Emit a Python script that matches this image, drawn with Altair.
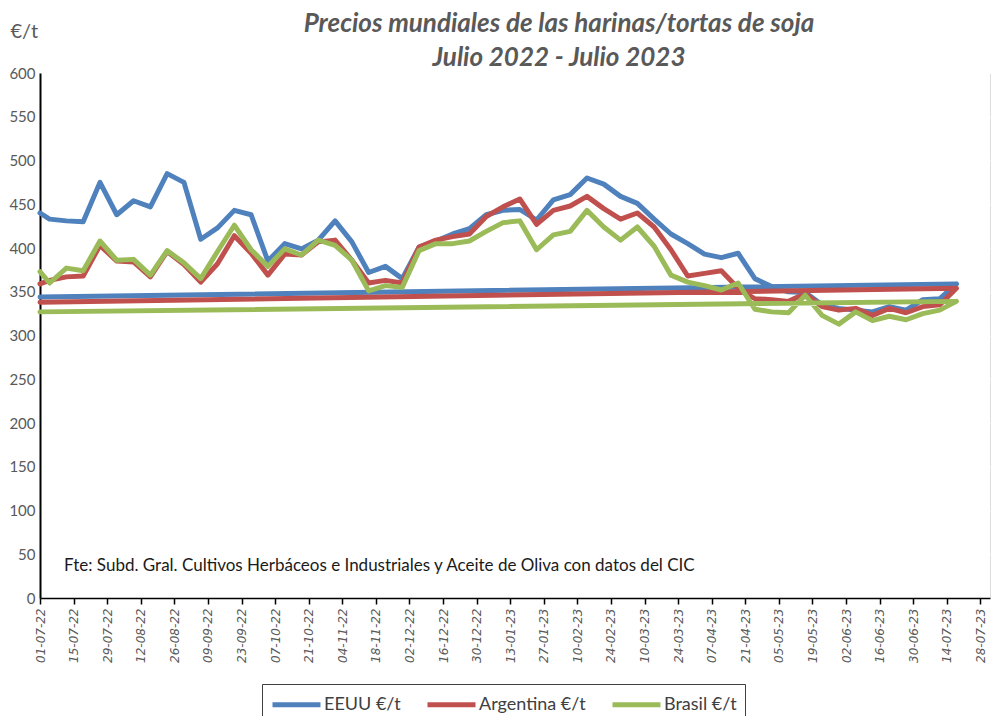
import altair as alt
import pandas as pd

# ---------------- data ----------------
series = ["EEUU €/t", "Argentina €/t", "Brasil €/t"]
colors = ["#4F81BD", "#C0504D", "#9BBB59"]

start_date = "2022-07-01"
weekly_dates = [d.strftime("%Y-%m-%d") for d in pd.date_range("2022-07-05", periods=55, freq="7D")]

eeuu_first = 440
eeuu = [433, 431, 430, 475, 438, 454, 447, 485, 475, 410, 423, 443, 438, 385,
        405, 399, 409, 431, 407, 372, 379, 365, 401, 408, 416, 422, 438, 443,
        444, 432, 455, 461, 480, 473, 459, 451, 433, 416, 405, 393, 389, 394,
        365, 356, 350, 349, 335, 331, 329, 327, 333, 329, 341, 342, 359]
eeuu_close = 344

arg_first = 359
argentina = [363, 367, 368, 403, 385, 384, 367, 396, 381, 361, 382, 414, 394, 369,
             393, 392, 407, 409, 386, 360, 363, 360, 401, 409, 413, 416, 436, 447,
             456, 427, 443, 448, 459, 445, 433, 440, 424, 398, 368, 371, 374, 354,
             342, 341, 339, 348, 333, 329, 331, 323, 331, 326, 333, 335, 354]
arg_close = 338

bra_first = 373
brasil = [360, 377, 374, 408, 386, 387, 369, 397, 383, 365, 396, 426, 398, 379,
          399, 392, 409, 403, 386, 351, 357, 355, 397, 405, 405, 408, 419, 429,
          431, 398, 415, 419, 443, 424, 409, 424, 402, 369, 361, 357, 352, 360,
          330, 327, 326, 346, 323, 313, 327, 317, 322, 318, 325, 329, 339]
bra_close = 327

y_ticks = list(range(0, 601, 50))
x_tick_dates = [d.strftime("%Y-%m-%d") for d in pd.date_range("2022-07-01", "2023-07-28", freq="14D")]

title_lines = ["Precios mundiales de las harinas/tortas de soja", "Julio 2022 - Julio 2023"]
y_title = "€/t"
source_note = "Fte: Subd. Gral. Cultivos Herbáceos e Industriales y Aceite de Oliva con datos del CIC"

# ---------------- table ----------------
rows = []
for name, first, vals, close in [
    (series[0], eeuu_first, eeuu, eeuu_close),
    (series[1], arg_first, argentina, arg_close),
    (series[2], bra_first, brasil, bra_close),
]:
    rows.append({"serie": name, "fecha": start_date, "valor": first, "ord": 0})
    for i, (d, v) in enumerate(zip(weekly_dates, vals)):
        rows.append({"serie": name, "fecha": d, "valor": v, "ord": i + 1})
    rows.append({"serie": name, "fecha": start_date, "valor": close, "ord": len(vals) + 1})
df = pd.DataFrame(rows)


def dt(s):
    y, m, d = (int(p) for p in s.split("-"))
    return alt.DateTime(year=y, month=m, date=d, utc=True)


PLOT_W, PLOT_H = 950, 525

x_enc = alt.X(
    "fecha:T",
    scale=alt.Scale(type="utc", domain=[dt("2022-07-01"), dt("2023-08-01")]),
    axis=alt.Axis(
        values=[dt(s) for s in x_tick_dates],
        format="%d-%m-%y",
        labelAngle=270,
        labelAlign="right",
        labelBaseline="middle",
        labelFont="DejaVu Sans",
        labelFontStyle="italic",
        labelFontSize=12,
        labelColor="#595959",
        labelPadding=4,
        labelOverlap=False,
        labelFlush=False,
        tickColor="#000000",
        tickSize=6,
        tickWidth=1.5,
        domainColor="#000000",
        domainWidth=1.5,
        grid=False,
        title=None,
    ),
)

y_enc = alt.Y(
    "valor:Q",
    scale=alt.Scale(domain=[0, 600], nice=False, zero=True),
    axis=alt.Axis(
        values=y_ticks,
        labelFont="Lato",
        labelFontSize=15,
        labelColor="#595959",
        labelPadding=5,
        ticks=False,
        domainColor="#000000",
        domainWidth=2,
        grid=True,
        gridColor="#FFFFFF",
        gridWidth=2,
        title=y_title,
        titleAngle=0,
        titleX=-30,
        titleY=-42,
        titleAlign="left",
        titleBaseline="middle",
        titleFont="Lato",
        titleFontSize=20,
        titleFontWeight="normal",
        titleColor="#595959",
    ),
)

color_enc = alt.Color(
    "serie:N",
    scale=alt.Scale(domain=series, range=colors),
    legend=alt.Legend(
        title=None,
        orient="none",
        legendX=222,
        legendY=611,
        direction="horizontal",
        symbolType="M-1,0H3.8",
        symbolSize=400,
        symbolStrokeWidth=5,
        labelFont="Lato",
        labelFontSize=18,
        labelColor="#404040",
        labelOffset=29,
        columnPadding=16,
        padding=8,
        strokeColor="#404040",
    ),
)

base = alt.Chart(df).mark_line(strokeWidth=5, strokeJoin="round", strokeCap="round").encode(
    x=x_enc,
    y=y_enc,
    color=color_enc,
    order=alt.Order("ord:Q"),
)

lines = [base.transform_filter(alt.datum.serie == s) for s in series]

note_df = pd.DataFrame({"txt": [source_note]})
note = alt.Chart(note_df).mark_text(
    align="left", baseline="middle", font="Lato", fontSize=17, color="#1a1a1a"
).encode(text="txt:N", x=alt.value(24), y=alt.value(493))

chart = alt.layer(*lines, note).properties(
    width=PLOT_W,
    height=PLOT_H,
    autosize=alt.AutoSizeParams(type="none"),
    padding={"left": 32, "top": 65, "right": 2, "bottom": 118},
    title=alt.TitleParams(
        text=title_lines,
        font="Lato",
        fontSize=26,
        fontStyle="italic",
        fontWeight="bold",
        color="#595959",
        anchor="middle",
        lineHeight=34,
        offset=0,
        dx=44,
        dy=50,
    ),
).configure_view(
    fill="#E8E8E8",
    stroke="#BFBFBF",
    strokeWidth=1,
).configure(background="#FFFFFF")

chart.save("out.html", embed_options={"renderer": "svg", "actions": False})
